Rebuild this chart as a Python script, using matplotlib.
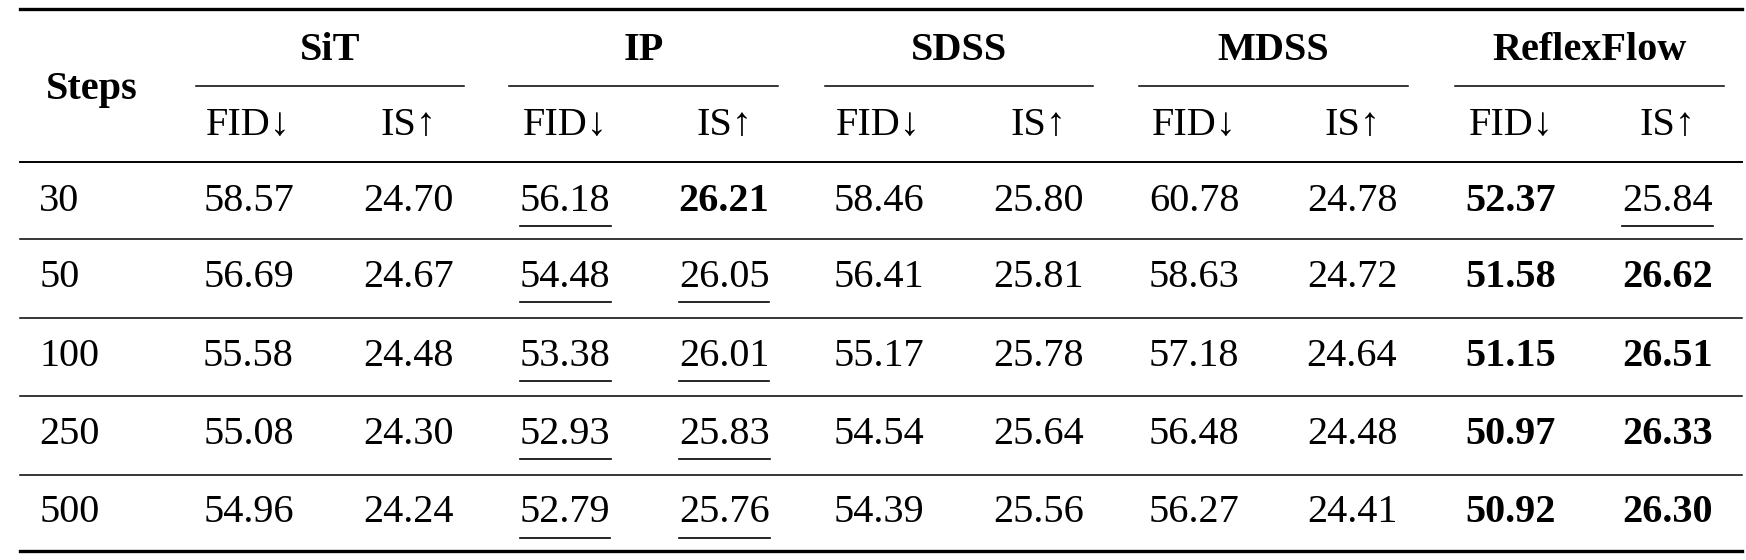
import matplotlib
matplotlib.use("Agg")
import matplotlib.pyplot as plt

steps = ["30", "50", "100", "250", "500"]
methods = ["SiT", "IP", "SDSS", "MDSS", "ReflexFlow"]
sit_fid = ["58.57", "56.69", "55.58", "55.08", "54.96"]
sit_is = ["24.70", "24.67", "24.48", "24.30", "24.24"]
ip_fid = ["56.18", "54.48", "53.38", "52.93", "52.79"]
ip_is = ["26.21", "26.05", "26.01", "25.83", "25.76"]
sdss_fid = ["58.46", "56.41", "55.17", "54.54", "54.39"]
sdss_is = ["25.80", "25.81", "25.78", "25.64", "25.56"]
mdss_fid = ["60.78", "58.63", "57.18", "56.48", "56.27"]
mdss_is = ["24.78", "24.72", "24.64", "24.48", "24.41"]
rf_fid = ["52.37", "51.58", "51.15", "50.97", "50.92"]
rf_is = ["25.84", "26.62", "26.51", "26.33", "26.30"]
# style: b = bold, u = underline, '' = plain
ip_fid_s = ["u"] * 5
ip_is_s = ["b", "u", "u", "u", "u"]
rf_fid_s = ["b"] * 5
rf_is_s = ["u", "b", "b", "b", "b"]

cols = [(sit_fid, [""] * 5), (sit_is, [""] * 5), (ip_fid, ip_fid_s), (ip_is, ip_is_s),
        (sdss_fid, [""] * 5), (sdss_is, [""] * 5), (mdss_fid, [""] * 5), (mdss_is, [""] * 5),
        (rf_fid, rf_fid_s), (rf_is, rf_is_s)]

W, H = 1746, 560
fig = plt.figure(figsize=(W / 100, H / 100), dpi=100)
ax = fig.add_axes([0, 0, 1, 1])
# layout coordinates are in a 1560x500 design space
ax.set_xlim(0, 1560)
ax.set_ylim(500, 0)
ax.axis("off")
FONT = "Liberation Serif"
FS = 29

col_x = [222, 365, 505, 647, 785, 928, 1067, 1208, 1350, 1490]
group_x = [(175, 415), (455, 695), (737, 977), (1018, 1258), (1300, 1540)]
row_y = [180, 248, 318, 388, 458]

L, R = 18, 1556
ax.plot([L, R], [8, 8], color="black", lw=2.4)
ax.plot([L, R], [145, 145], color="black", lw=1.4)
ax.plot([L, R], [492, 492], color="black", lw=2.4)
for y in [213, 284, 354, 424]:
    ax.plot([L, R], [y, y], color="black", lw=1.1)

ax.text(82, 80, "Steps", ha="center", va="center", fontsize=FS, fontweight="bold", family=FONT)
for m, (a, b) in zip(methods, group_x):
    ax.text((a + b) / 2, 45, m, ha="center", va="center", fontsize=FS, fontweight="bold", family=FONT)
    ax.plot([a, b], [77, 77], color="black", lw=1.1)
for i, x in enumerate(col_x):
    lab = "FID↓" if i % 2 == 0 else "IS↑"
    ax.text(x, 112, lab, ha="center", va="center", fontsize=FS, family=[FONT, "DejaVu Serif"])

fig.canvas.draw()
r = fig.canvas.get_renderer()
inv = ax.transData.inverted()
for j, y in enumerate(row_y):
    ax.text(35, y, steps[j], ha="left", va="center", fontsize=FS, family=FONT)
    for x, (vals, sty) in zip(col_x, cols):
        s = sty[j]
        t = ax.text(x, y, vals[j], ha="center", va="center", fontsize=FS, family=FONT,
                    fontweight="bold" if s == "b" else "normal")
        if s == "u":
            bb = t.get_window_extent(r)
            (x0, _), (x1, _) = inv.transform([(bb.x0, 0), (bb.x1, 0)])
            ax.plot([x0, x1], [y + 22, y + 22], color="black", lw=1.2)

fig.savefig("out.png", dpi=100)
